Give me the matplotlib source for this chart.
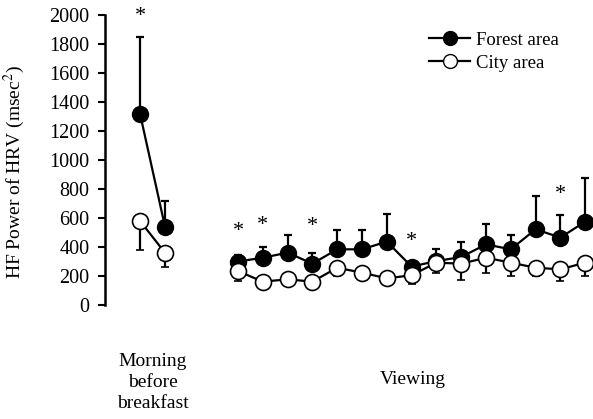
import numpy as np
import matplotlib.pyplot as plt
from matplotlib.lines import Line2D

plt.rcParams['font.family'] = ['Liberation Serif', 'DejaVu Serif']
plt.rcParams['mathtext.fontset'] = 'stix'

# morning before breakfast (2 measurements)
forest_morning = [1320, 540]
forest_morning_up = [530, 175]
city_morning = [580, 360]
city_morning_dn = [200, 100]

# viewing period (15 measurements)
forest_view = [300, 326, 361, 285, 384, 384, 437, 265, 303, 331, 418, 384, 522, 465, 575]
forest_view_up = [45, 74, 122, 76, 133, 133, 193, 30, 86, 106, 143, 99, 230, 154, 299]
city_view = [234, 161, 177, 161, 257, 223, 184, 205, 292, 285, 326, 292, 257, 246, 292]
city_view_dn = [68, 20, 20, 20, 57, 23, 20, 58, 69, 115, 103, 92, 57, 80, 92]

# significance markers: (index, y)
star_morning = [(0, 1990)]
star_view = [(0, 510), (1, 545), (3, 538), (7, 441), (13, 765)]

fig = plt.figure(figsize=(5.93, 4.19), dpi=100)
ax = fig.add_axes([105 / 593, 114 / 419, 488 / 593, 290 / 419])

step = 24.8
mx = np.array([(140 - 238) / step, (165 - 238) / step])
vx = np.arange(len(forest_view))

ms = 11.5
lw = 1.6
ekw = dict(ecolor='black', elinewidth=1.6, capsize=3.2, capthick=1.6)

for xs, fv, fu, cv, cd in [(mx, forest_morning, forest_morning_up, city_morning, city_morning_dn),
                           (vx, forest_view, forest_view_up, city_view, city_view_dn)]:
    z = np.zeros(len(fv))
    ax.errorbar(xs, fv, yerr=[z, fu], fmt='o-', color='black', mfc='black', mec='black',
                ms=ms, lw=lw, clip_on=False, zorder=3, **ekw)
    ax.errorbar(xs, cv, yerr=[cd, z], fmt='o-', color='black', mfc='white', mec='black',
                ms=ms, mew=1.2, lw=lw, clip_on=False, zorder=4, **ekw)

for i, y in star_morning:
    ax.text(mx[i], y, '*', ha='center', va='center', fontsize=16)
for i, y in star_view:
    ax.text(vx[i], y, '*', ha='center', va='center', fontsize=16)

ax.set_ylim(0, 2000)
ax.set_xlim((105 - 238) / step, (593 - 238) / step)
ax.set_yticks(np.arange(0, 2001, 200))
ax.tick_params(axis='y', direction='out', length=5, width=1.5, labelsize=14.5, pad=6)
ax.set_xticks([])
for s in ['top', 'right', 'bottom']:
    ax.spines[s].set_visible(False)
ax.spines['left'].set_linewidth(1.8)
ax.set_ylabel('HF Power of HRV (msec$^{2}$)', fontsize=14)
ax.yaxis.set_label_coords(-78 / 488, 0.46)

ax.text(mx.mean(), -330, 'Morning\nbefore\nbreakfast', ha='center', va='top',
        fontsize=14, linespacing=1.32)
ax.text((413 - 238) / step, -515, 'Viewing', ha='center', va='center', fontsize=14)

handles = [Line2D([], [], color='black', marker='o', mfc='black', ms=10, lw=1.6),
           Line2D([], [], color='black', marker='o', mfc='white', ms=10, lw=1.6)]
ax.legend(handles, ['Forest area', 'City area'], loc='upper left',
          bbox_to_anchor=((412 - 105) / 488, 1.0), frameon=False, fontsize=13.5,
          handlelength=2.2, handletextpad=0.3, labelspacing=0.3)

fig.savefig('out.png', dpi=100)
